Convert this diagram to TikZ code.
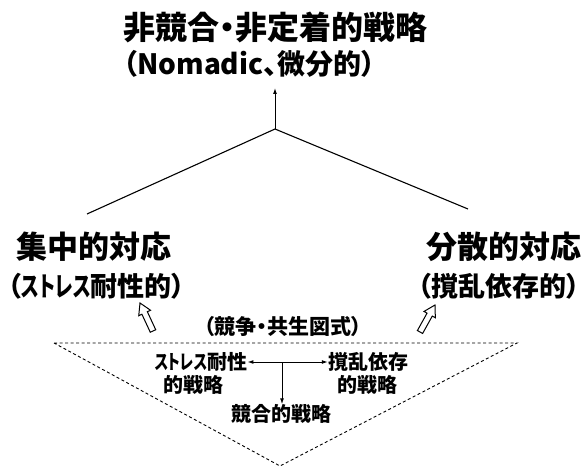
\documentclass[tikz,border=0pt]{standalone}
\usepackage{fontspec}
\setmainfont{Noto Sans CJK JP}
\newfontfamily\pfont{Noto Sans CJK JP}[RawFeature=+palt]
\usetikzlibrary{arrows.meta,calc}
\tikzset{
  txtA/.style={font=\pfont\bfseries\fontsize{32}{34}\selectfont, inner sep=0pt},
  txtT/.style={font=\pfont\bfseries\fontsize{28}{30}\selectfont, inner sep=0pt},
  txtB/.style={font=\bfseries\fontsize{31}{33}\selectfont, inner sep=0pt},
  txtC/.style={font=\pfont\bfseries\fontsize{27}{29}\selectfont, inner sep=0pt},
  txtD/.style={font=\pfont\bfseries\fontsize{21}{23}\selectfont, inner sep=0pt},
  txtE/.style={font=\pfont\bfseries\fontsize{20}{22}\selectfont, inner sep=0pt},
  mainline/.style={line width=1.1pt},
  smallarr/.style={line width=1pt, -{Latex[length=6pt,width=4pt]}},
  dblarr/.style={line width=1pt, {Latex[length=6pt,width=4pt]}-{Latex[length=6pt,width=4pt]}},
  hollow/.style={draw, line width=1pt, fill=white, line join=miter},
  dashtri/.style={line width=0.9pt, dash pattern=on 3pt off 2.5pt},
}
\newcommand\hollowarrow[2]{%
  \coordinate (hh) at ($(#2)!11pt!(#1)$);
  \draw[hollow] (#2) -- ($(hh)!6.5pt!90:(#2)$) -- ($(hh)!3pt!90:(#2)$)
    -- ($(#1)!3pt!90:(#2)$) -- ($(#1)!3pt!-90:(#2)$) -- ($(hh)!3pt!-90:(#2)$)
    -- ($(hh)!6.5pt!-90:(#2)$) -- cycle;}
\newcommand\narrowkana[2]{\scalebox{#1}[1]{#2}}
\begin{document}
\begin{tikzpicture}[x=1pt,y=-1pt]
\useasboundingbox (0,0) rectangle (584,468);
% titles
\node[txtA, anchor=west] (t1) at (123,28) {非競合・非定着的戦略};
\node[txtT, anchor=west] (t2) at (123,64) {（Nomadic、微分的）};
% tree
\coordinate (apex) at (275,129);
\coordinate (top) at (275,88);
\coordinate (lend) at (87,214);
\coordinate (rend) at (468,209);
\draw[mainline] (lend) -- (apex) -- (rend);
\draw[smallarr] (apex) -- (top);
% side labels
\node[txtB, anchor=west] (l1) at (16,247) {集中的対応};
\node[txtC, anchor=west] (l2) at (8,286) {（\narrowkana{0.7}{ストレス}耐性的）};
\node[txtB, anchor=east] (r1) at (582,247) {分散的対応};
\node[txtC, anchor=east] (r2) at (580,286) {（撹乱依存的）};
% hollow arrows
\coordinate (lt) at (153,331);
\coordinate (lh) at (140,303);
\coordinate (rt) at (420,332);
\coordinate (rh) at (435,305);
\hollowarrow{lt}{lh}
\hollowarrow{rt}{rh}
% scheme
\node[txtD] (c) at (283,327) {（競争・共生図式）};
\coordinate (ta) at (54,343);
\coordinate (tb) at (517,343);
\coordinate (tc) at (280,466);
\draw[dashtri] (ta) -- (tb) -- (tc) -- cycle;
\node[txtE] (s1a) at (201,362) {\narrowkana{0.72}{ストレス}耐性};
\node[txtE] (s1b) at (193,385) {的戦略};
\node[txtE] (s2a) at (368,362) {撹乱依存};
\node[txtE] (s2b) at (367,385) {的戦略};
\node[txtE] (k) at (281,414) {競合的戦略};
\draw[dblarr] (s1a.east) -- (s2a.west);
\coordinate (mid) at (282,363);
\draw[smallarr] (mid) -- (k.north -| mid);
\end{tikzpicture}
\end{document}
